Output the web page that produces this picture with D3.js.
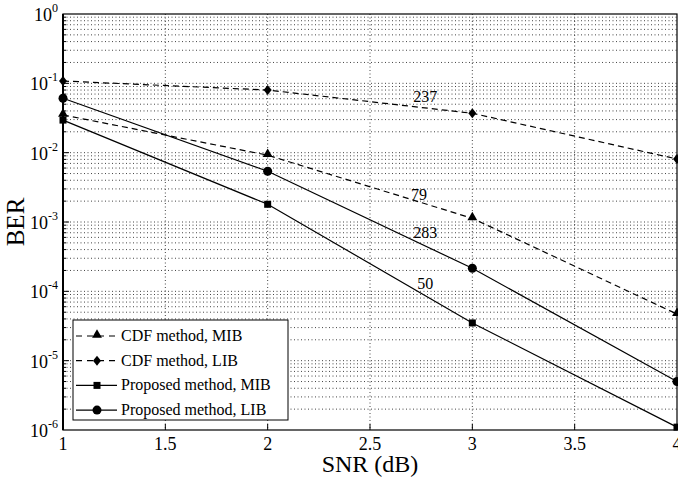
<!DOCTYPE html>
<html>
<head>
<meta charset="utf-8">
<script src="https://cdn.jsdelivr.net/npm/d3@7"></script>
<style>
body { margin: 0; background: #fff; }
text { font-family: "Liberation Serif", "Times New Roman", serif; fill: #000; }
</style>
</head>
<body>
<svg id="chart" width="678" height="477"></svg>
<script>
// data
var snr = [1, 2, 3, 4];
var cdfMIB = [0.035, 0.0092, 0.00113, 4.7e-5];
var cdfLIB = [0.108, 0.080, 0.037, 0.0081];
var propMIB = [0.0295, 0.0018, 3.5e-5, 1.1e-6];
var propLIB = [0.061, 0.0054, 2.15e-4, 5.0e-6];
var xTicks = [1, 1.5, 2, 2.5, 3, 3.5, 4];
var yExps = [0, -1, -2, -3, -4, -5, -6];
var seriesNames = ["CDF method, MIB", "CDF method, LIB", "Proposed method, MIB", "Proposed method, LIB"];
var curveLabels = [
  { text: "237", x: 2.77, v: 0.054 },
  { text: "79", x: 2.74, v: 0.00207 },
  { text: "283", x: 2.77, v: 5.9e-4 },
  { text: "50", x: 2.77, v: 1.08e-4 }
];

var series = [
  { name: seriesNames[0], values: cdfMIB, dash: "6,4", marker: "triangle" },
  { name: seriesNames[1], values: cdfLIB, dash: "6,4", marker: "diamond" },
  { name: seriesNames[2], values: propMIB, dash: null, marker: "square" },
  { name: seriesNames[3], values: propLIB, dash: null, marker: "circle" }
];

var svg = d3.select("#chart");
var pl = 63, pr = 677, pt = 14, pb = 430;

var x = d3.scaleLinear().domain([1, 4]).range([pl, pr]);
var y = d3.scaleLog().domain([1e-6, 1]).range([pb, pt]);

// grid lines (major + minor decades)
var grid = svg.append("g");
var minors = [];
for (var e = -6; e < 0; e++) {
  for (var m = 1; m < 10; m++) minors.push(m * Math.pow(10, e));
}
minors = minors.filter(function(d){ return d > 1.5e-6; });
grid.selectAll(".hg").data(minors)
  .enter().append("line")
  .attr("x1", pl).attr("x2", pr)
  .attr("y1", function(d){ return y(d); }).attr("y2", function(d){ return y(d); })
  .attr("stroke", "#444").attr("stroke-width", 1).attr("stroke-dasharray", "1,2.5");
grid.selectAll(".vg").data(xTicks.slice(1, -1))
  .enter().append("line")
  .attr("x1", function(d){ return x(d); }).attr("x2", function(d){ return x(d); })
  .attr("y1", pt).attr("y2", pb)
  .attr("stroke", "#444").attr("stroke-width", 1).attr("stroke-dasharray", "1,2.5");

// inward ticks
function isMajor(d) {
  var l = Math.log10(d);
  return Math.abs(l - Math.round(l)) < 1e-9;
}
var ticks = svg.append("g").attr("stroke", "#000");
ticks.selectAll(".yt").data(minors)
  .enter().append("line")
  .attr("x1", pl).attr("x2", function(d){ return pl + (isMajor(d) ? 6 : 3); })
  .attr("y1", function(d){ return y(d); }).attr("y2", function(d){ return y(d); });
ticks.selectAll(".xt").data(xTicks)
  .enter().append("line")
  .attr("x1", function(d){ return x(d); }).attr("x2", function(d){ return x(d); })
  .attr("y1", pb).attr("y2", pb - 6);

// frame
svg.append("rect").attr("x", pl).attr("y", pt)
  .attr("width", pr - pl).attr("height", pb - pt)
  .attr("fill", "none").attr("stroke", "#000").attr("stroke-width", 1.2);
svg.append("line").attr("x1", pl).attr("x2", pl).attr("y1", pt).attr("y2", pb)
  .attr("stroke", "#000").attr("stroke-width", 2);

// tick labels
svg.selectAll(".xl").data(xTicks).enter().append("text")
  .attr("x", function(d){ return x(d); }).attr("y", 450)
  .attr("text-anchor", "middle").attr("font-size", "18px")
  .text(function(d){ return d; });

var yl = svg.selectAll(".yl").data(yExps).enter().append("text")
  .attr("x", 58).attr("y", function(d){ return y(Math.pow(10, d)) + 7; })
  .attr("text-anchor", "end").attr("font-size", "18px");
yl.append("tspan").text("10");
yl.append("tspan").attr("dy", -9).attr("font-size", "12px").text(function(d){ return d; });

// axis titles
svg.append("text").attr("x", 370).attr("y", 472).attr("text-anchor", "middle")
  .attr("font-size", "24px").text("SNR (dB)");
svg.append("text").attr("transform", "translate(24,222) rotate(-90)")
  .attr("text-anchor", "middle").attr("font-size", "25px").text("BER");

// curves
var line = d3.line()
  .x(function(d, i){ return x(snr[i]); })
  .y(function(d){ return y(d); });

function drawMarker(g, type, cx, cy) {
  if (type === "triangle") {
    g.append("path").attr("d", d3.symbol().type(d3.symbolTriangle).size(42)())
      .attr("transform", "translate(" + cx + "," + (cy - 1) + ")").attr("fill", "#000");
  } else if (type === "diamond") {
    g.append("path").attr("d", "M0,-5L4,0L0,5L-4,0Z")
      .attr("transform", "translate(" + cx + "," + cy + ")").attr("fill", "#000");
  } else if (type === "square") {
    g.append("rect").attr("x", cx - 3.5).attr("y", cy - 3.5).attr("width", 7).attr("height", 7).attr("fill", "#000");
  } else {
    g.append("circle").attr("cx", cx).attr("cy", cy).attr("r", 4.5).attr("fill", "#000");
  }
}

series.forEach(function(s){
  var g = svg.append("g");
  g.append("path").datum(s.values).attr("d", line)
    .attr("fill", "none").attr("stroke", "#000").attr("stroke-width", 1.2)
    .attr("stroke-dasharray", s.dash);
  s.values.forEach(function(v, i){ drawMarker(g, s.marker, x(snr[i]), y(v)); });
});

// curve labels
svg.selectAll(".cl").data(curveLabels).enter().append("text")
  .attr("x", function(d){ return x(d.x); }).attr("y", function(d){ return y(d.v); })
  .attr("text-anchor", "middle").attr("font-size", "16px")
  .text(function(d){ return d.text; });

// legend
var lg = svg.append("g");
lg.append("rect").attr("x", 73).attr("y", 320).attr("width", 215).attr("height", 100)
  .attr("fill", "#fff").attr("stroke", "#000").attr("stroke-width", 1);
series.forEach(function(s, i){
  var ly = 336 + i * 24.7;
  lg.append("line").attr("x1", 76).attr("x2", 117).attr("y1", ly).attr("y2", ly)
    .attr("stroke", "#000").attr("stroke-width", 1.2).attr("stroke-dasharray", s.dash ? "6,5" : null);
  drawMarker(lg, s.marker, 97, ly);
  lg.append("text").attr("x", 121).attr("y", ly + 5).attr("font-size", "16px").text(s.name);
});
</script>
</body>
</html>
